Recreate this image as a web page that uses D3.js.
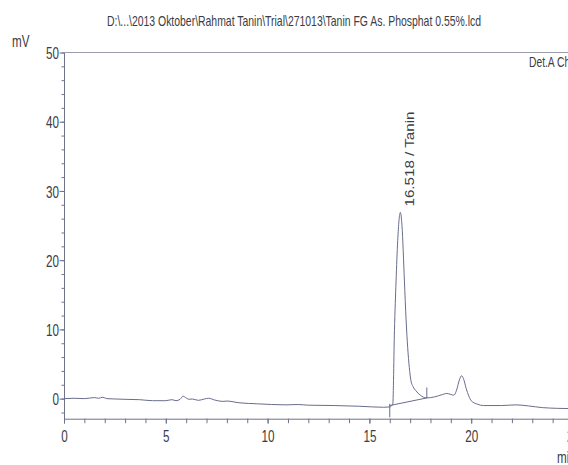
<!DOCTYPE html>
<meta charset="utf-8">
<style>
body { margin: 0; background: #fff; overflow: hidden; }
text { font-family: "Liberation Sans", Arial, sans-serif; fill: #3c3c44; }
.axis path, .axis line { fill: none; stroke: #70728a; }
</style>
<body>
<svg id="chrom" width="568" height="465"></svg>

<script src="https://d3js.org/d3.v7.min.js"></script>

<script>

// retention time (min) and detector signal (mV)
var timeMin = [0, 0.5, 1, 1.5, 1.7, 1.9, 2.1, 2.5, 3, 3.7, 4.35, 5.0, 5.3, 5.5, 5.7, 5.85, 6.0, 6.15, 6.3, 6.6, 6.9, 7.1, 7.4, 7.8, 8.0, 8.6, 9.5, 10.9, 11.5, 12, 13.3, 14.5, 15.7, 16.0, 16.15, 16.23, 16.31, 16.39, 16.52, 16.6, 16.72, 16.8, 16.88, 16.96, 17.04, 17.15, 17.28, 17.5, 17.8, 18.2, 18.6, 18.8, 19.0, 19.15, 19.3, 19.42, 19.53, 19.62, 19.75, 19.88, 20.0, 20.3, 20.6, 21.5, 22.2, 22.8, 23.5, 24.2, 25];
var signalMv = [0, 0.05, 0, 0.15, 0.05, 0.2, 0, -0.05, -0.1, -0.15, -0.3, -0.3, -0.15, -0.3, -0.1, 0.35, 0.1, -0.1, -0.05, -0.25, -0.05, 0.05, -0.2, -0.4, -0.35, -0.6, -0.75, -0.9, -0.85, -0.95, -1.0, -1.1, -1.25, -1.2, -0.75, 9.8, 17, 22.8, 26.9, 25, 17, 11.5, 7.4, 4.5, 2.6, 1.7, 1.15, 0.5, 0.1, 0.25, 0.6, 0.75, 0.6, 0.5, 1.4, 2.7, 3.3, 2.9, 1.5, 0.4, -0.3, -0.8, -1.0, -1.0, -0.9, -1.05, -1.3, -1.4, -1.45];

var xTicks = [0, 5, 10, 15, 20, 25];
var yTicks = [0, 10, 20, 30, 40, 50];

var peakTime = 16.518;
var peakLabel = "16.518 / Tanin";
// integration baseline start / end (min, mV) and marker extents
var baseTime = [16.0, 17.82];
var baseMv = [-1.0, 0.1];
var markLow = [-2.7, 0.1];
var markHigh = [-0.75, 1.6];

var title = "D:\\...\\2013 Oktober\\Rahmat Tanin\\Trial\\271013\\Tanin FG As. Phosphat 0.55%.lcd";

var svg = d3.select("#chrom");
var squeeze = 0.73;

var x = d3.scaleLinear().domain([0, 25]).range([64, 573]);
var y = d3.scaleLinear().domain([-2.9, 50]).range([418.7, 52.5]);

// top frame line
svg.append("line")
    .attr("x1", x(0)).attr("x2", 600)
    .attr("y1", y(50)).attr("y2", y(50))
    .attr("stroke", "#9a9bab");

// y axis: minor then major ticks
svg.append("g")
    .attr("class", "axis")
    .attr("transform", "translate(" + x(0) + ",0)")
    .call(d3.axisLeft(y).tickValues(d3.range(-2, 51, 2)).tickSize(2.5).tickSizeOuter(0).tickFormat(""))
    .select(".domain").remove();

var gy = svg.append("g")
    .attr("class", "axis")
    .attr("transform", "translate(" + x(0) + ",0)")
    .call(d3.axisLeft(y).tickValues(yTicks).tickSize(4.5).tickSizeOuter(0));
gy.selectAll(".tick text")
    .attr("x", 0)
    .attr("font-size", 16)
    .attr("transform", "translate(-5,1) scale(" + squeeze + ",1)");

// x axis
svg.append("g")
    .attr("class", "axis")
    .attr("transform", "translate(0," + y(-2.9) + ")")
    .call(d3.axisBottom(x).tickValues(d3.range(0, 26, 1)).tickSize(4.5).tickSizeOuter(0).tickFormat(""))
    .select(".domain").remove();

var gx = svg.append("g")
    .attr("class", "axis")
    .attr("transform", "translate(0," + y(-2.9) + ")")
    .call(d3.axisBottom(x).tickValues(xTicks).tickSize(5).tickPadding(7).tickSizeOuter(0));
gx.selectAll(".tick text")
    .attr("font-size", 16)
    .attr("transform", "scale(" + squeeze + ",1)");

// chromatogram trace
var pts = timeMin.map(function(t, i) { return [t, signalMv[i]]; });
var line = d3.line()
    .x(function(d) { return x(d[0]); })
    .y(function(d) { return y(d[1]); })
    .curve(d3.curveMonotoneX);

svg.append("path")
    .datum(pts)
    .attr("d", line)
    .attr("fill", "none")
    .attr("stroke", "#6a6d8c")
    .attr("stroke-width", 1);

// integration baseline and markers
svg.append("line")
    .attr("x1", x(baseTime[0])).attr("y1", y(baseMv[0]))
    .attr("x2", x(baseTime[1])).attr("y2", y(baseMv[1]))
    .attr("stroke", "#6a6d8c");

svg.selectAll(".mark")
    .data(baseTime)
    .enter().append("line")
    .attr("class", "mark")
    .attr("x1", function(d) { return x(d); })
    .attr("x2", function(d) { return x(d); })
    .attr("y1", function(d, i) { return y(markLow[i]); })
    .attr("y2", function(d, i) { return y(markHigh[i]); })
    .attr("stroke", "#6a6d8c");

// peak label
svg.append("text")
    .attr("transform", "translate(" + (x(peakTime) + 14) + ",206.5) rotate(-90)")
    .attr("font-size", 12)
    .attr("textLength", 95)
    .attr("lengthAdjust", "spacingAndGlyphs")
    .text(peakLabel);

// title and unit labels
svg.append("text")
    .attr("x", 107).attr("y", 26)
    .attr("font-size", 14.5)
    .attr("textLength", 374)
    .attr("lengthAdjust", "spacingAndGlyphs")
    .text(title);

svg.append("text")
    .attr("transform", "translate(12,47) scale(" + squeeze + ",1)")
    .attr("font-size", 16)
    .text("mV");

svg.append("text")
    .attr("transform", "translate(529,66.5) scale(0.71,1)")
    .attr("font-size", 14.5)
    .text("Det.A Ch1");

svg.append("text")
    .attr("transform", "translate(557,463) scale(" + squeeze + ",1)")
    .attr("font-size", 16)
    .text("min");

</script>
</body>
